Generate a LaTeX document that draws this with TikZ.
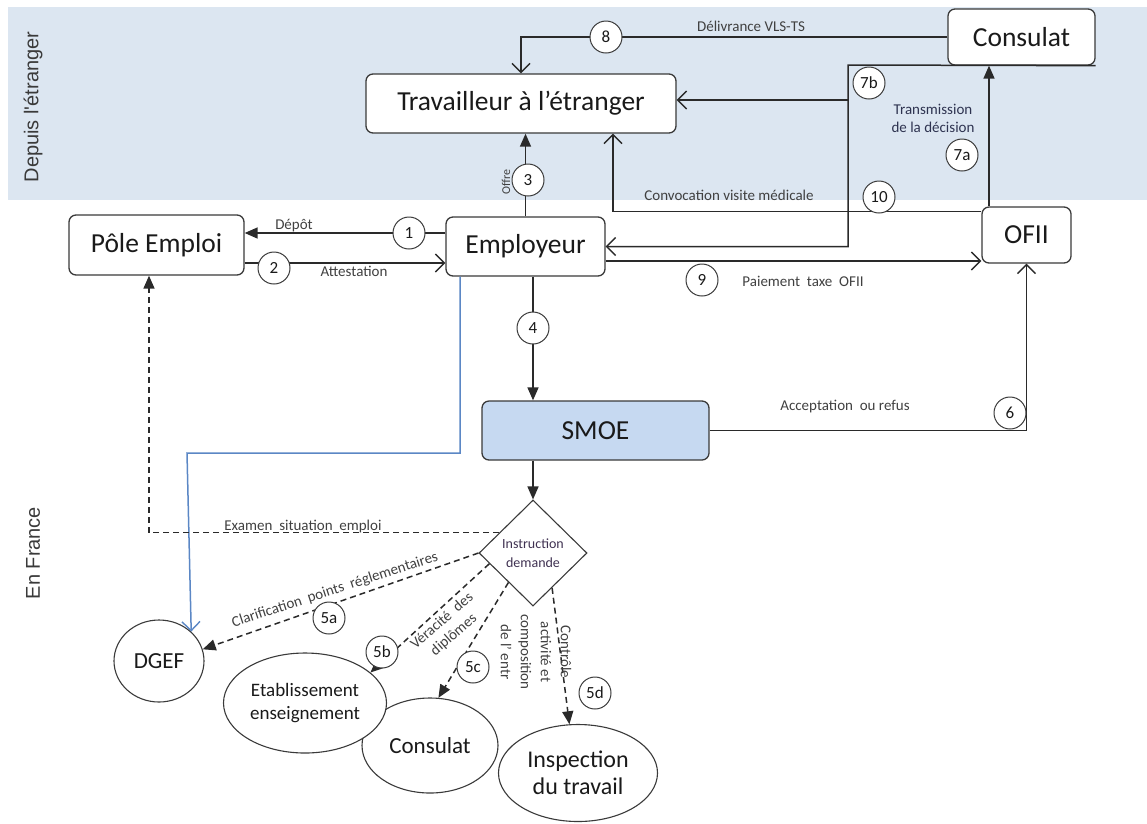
\documentclass[tikz,border=0pt]{standalone}
\usepackage{fontspec}
\setmainfont{Carlito}
\newfontfamily\sidefont{Liberation Sans}
\usepackage{xcolor}
\usepackage{tikz}
\usetikzlibrary{calc,arrows.meta,shapes.geometric}
\definecolor{band}{HTML}{DCE6F1}
\definecolor{smoefill}{HTML}{C6D9F1}
\definecolor{ink}{HTML}{1A1A1A}
\definecolor{edge}{HTML}{3A3A3A}
\definecolor{wirec}{HTML}{2A2A2A}
\definecolor{muted}{HTML}{404040}
\definecolor{navy}{HTML}{2E3350}
\definecolor{plum}{HTML}{3F3151}
\definecolor{link}{HTML}{5B87C5}
\tikzset{
  box/.style={draw=edge, line width=1.3pt, rounded corners=7pt, fill=white, text=ink, inner sep=0pt, font={\fontsize{27.5}{31}\selectfont}},
  oval/.style={ellipse, draw=edge, line width=1.1pt, fill=white, text=ink, inner sep=0pt, align=center},
  num/.style={circle, draw=edge, line width=1pt, fill=white, minimum size=32pt, inner sep=0pt, text=ink, font={\fontsize{17}{20}\selectfont}},
  lab/.style={text=muted, font={\fontsize{15}{18}\selectfont}},
  side/.style={text=edge, rotate=90, font={\sidefont\fontsize{20}{24}\selectfont}},
  cnx/.style={draw=wirec, line width=1.5pt},
  opnarr/.style={cnx, -{Straight Barb[length=9pt,width=18pt,line width=1.4pt]}},
  fillarr/.style={cnx, -{Triangle[length=13pt,width=11pt]}},
  dsharr/.style={fillarr, dash pattern=on 6pt off 4pt},
  bluearr/.style={draw=link, line width=1.5pt, -{Straight Barb[length=9pt,width=18pt,line width=1.4pt]}}
}
\begin{document}
\begin{tikzpicture}[x=1pt,y=-1pt]
  \useasboundingbox (0,0) rectangle (1147,823);
  \fill[band] (8,7) rectangle (1147,200);
  \node[side] (zone1) at (33,107) {Depuis l'étranger};
  \node[side] (zone2) at (33,553) {En France};
  % boites
  \node[box, minimum width=310pt, minimum height=59pt] (trav) at (521,103.5) {Travailleur à l’étranger};
  \node[box, minimum width=147pt, minimum height=56pt] (cons) at (1021.5,37) {Consulat};
  \node[box, minimum width=175pt, minimum height=60pt] (pole) at (156.5,245) {Pôle Emploi};
  \node[box, minimum width=159pt, minimum height=59pt] (emp) at (525.5,246.5) {Employeur};
  \node[box, minimum width=89pt, minimum height=56pt] (ofii) at (1026.5,235) {OFII};
  \node[box, fill=smoefill, minimum width=227pt, minimum height=59pt] (smoe) at (595.5,430.5) {SMOE};
  \node[diamond, draw=edge, line width=1.1pt, aspect=1, inner sep=0pt, minimum width=108pt, minimum height=106pt,
        align=center, text=plum, font={\fontsize{14}{19}\selectfont}] (instr) at (533,553) {Instruction\\demande};
  \node[oval, minimum width=90pt, minimum height=82pt, font={\fontsize{23}{27}\selectfont}] (dgef) at (159,661) {DGEF};
  \node[oval, minimum width=136pt, minimum height=95pt, font={\fontsize{23}{27}\selectfont}] (consf) at (430,745.5) {Consulat};
  \node[oval, minimum width=163pt, minimum height=100pt, font={\fontsize{19}{23}\selectfont}] (etab) at (305,703) {Etablissement\\enseignement};
  \node[oval, minimum width=159pt, minimum height=97pt, font={\fontsize{24}{27}\selectfont}] (insp) at (578,773) {Inspection\\du travail};
  % liaisons
  \draw[opnarr] (cons.west) -| (trav.north);
  \coordinate (k7) at (848,65);
  \coordinate (b7) at (848,100);
  \draw[opnarr] (cons.south east) -- (k7) |- (emp.east);
  \draw[opnarr] (b7) -- (b7 -| trav.east);
  \coordinate (p7) at ($(ofii.north)+(-37.5,0)$);
  \draw[fillarr] (p7) -- (p7 |- cons.south);
  \coordinate (p10) at ($(ofii.north west)+(0,5)$);
  \coordinate (t10) at ($(trav.south)+(92,0)$);
  \draw[opnarr] (p10) -| (t10);
  \coordinate (p9) at ($(emp.east)+(0,14.5)$);
  \draw[opnarr] (p9) -- (p9 -| ofii.west);
  \coordinate (p1) at ($(emp.west)+(0,-13.5)$);
  \draw[fillarr] (p1) -- (p1 -| pole.east);
  \coordinate (p2) at ($(pole.east)+(0,18)$);
  \draw[opnarr] (p2) -- (p2 -| emp.west);
  \draw[fillarr] (emp.north) -- (emp.north |- trav.south);
  \coordinate (p4) at ($(emp.south)+(7.5,0)$);
  \draw[fillarr] (p4) -- (p4 |- smoe.north);
  \draw[fillarr] (smoe.south -| instr.north) -- (instr.north);
  \draw[opnarr] (smoe.east) -| (ofii.south);
  \coordinate (pb) at ($(emp.south)+(-65.5,0)$);
  \coordinate (bl) at (187,453);
  \draw[bluearr] (pb) |- (bl) -- (dgef.north east);
  \coordinate (pe) at ($(instr.west)!0.38!(instr.north)$);
  \coordinate (pp) at ($(pole.south)+(-7.5,0)$);
  \draw[dsharr] (pe) -| (pp);
  \draw[dsharr] (instr.west) -- (dgef.15);
  \draw[dsharr] ($(instr.west)!0.2!(instr.south)$) -- (etab.25);
  \draw[dsharr] ($(instr.west)!0.55!(instr.south)$) -- (consf.80);
  \draw[dsharr] ($(instr.south)!0.35!(instr.east)$) -- (insp.100);
  % numeros
  \node[num] (n1) at (409,233) {1};
  \node[num] (n2) at (274,268) {2};
  \node[num] (n3) at (528,180) {3};
  \node[num] (n4) at (533,328) {4};
  \node[num] (n5a) at (329,618) {5a};
  \node[num] (n5b) at (382,652) {5b};
  \node[num] (n5c) at (473,667) {5c};
  \node[num] (n5d) at (595,693) {5d};
  \node[num] (n6) at (1010,413) {6};
  \node[num] (n7a) at (962,155) {7a};
  \node[num] (n7b) at (869,83) {7b};
  \node[num] (n8) at (606,37) {8};
  \node[num] (n9) at (702,280) {9};
  \node[num] (n10) at (879,197) {10};
  % textes
  \node[lab] (l8) at (751,26) {Délivrance VLS-TS};
  \node[lab, text=navy, align=center] (l7) at (933,118) {Transmission\\de la décision};
  \node[lab] (l10) at (729,195) {Convocation visite médicale};
  \node[lab] (l9) at (803,281) {Paiement\ \ taxe\ \ OFII};
  \node[lab] (l6) at (845,407) {Acceptation\ \ ou refus};
  \node[lab] (l1) at (294,226) {Dépôt};
  \node[lab] (l2) at (354,271) {Attestation};
  \node[lab, rotate=90, font={\fontsize{12}{14}\selectfont}] (l3) at (506,182) {Offre};
  \node[lab] (le) at (303,526) {Examen\ \ situation\ \ emploi};
  \node[lab, rotate=18] (l5a) at (335,590) {Clarification\ \ points\ \ réglementaires};
  \node[lab, rotate=41, align=center] (l5b) at (448,628) {Véracité\ \ des\\diplômes};
  \node[lab, rotate=-90, align=center, font={\fontsize{15}{20}\selectfont}] (l5d) at (536,652) {Contrôle\\activité et\\composition\\de l' entr};
\end{tikzpicture}
\end{document}
